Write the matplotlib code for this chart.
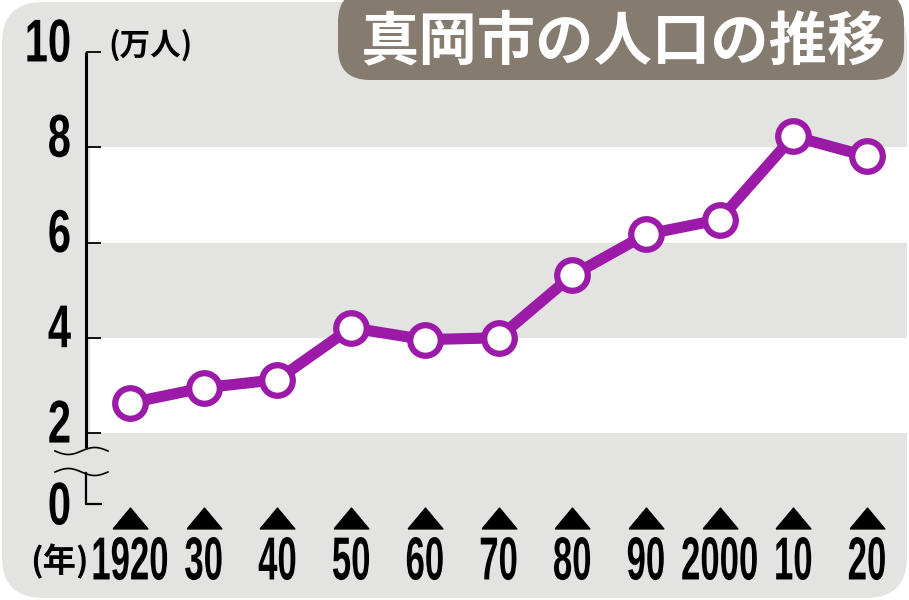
import numpy as np
import matplotlib.pyplot as plt
from matplotlib.patches import FancyBboxPatch
from matplotlib.patheffects import AbstractPathEffect
from matplotlib.transforms import Affine2D, blended_transform_factory

plt.rcParams['font.family'] = ['Noto Sans CJK JP', 'DejaVu Sans']

# data (population in 10,000 people)
years = [1920, 1930, 1940, 1950, 1960, 1970, 1980, 1990, 2000, 2010, 2020]
year_labels = ['1920', '30', '40', '50', '60', '70', '80', '90', '2000', '10', '20']
population = [2.63, 2.95, 3.12, 4.21, 3.96, 4.00, 5.31, 6.17, 6.48, 8.23, 7.81]
y_ticks = [2, 4, 6, 8, 10]
title = '真岡市の人口の推移'
unit_label = '(万人)'
year_unit = '(年)'

PURPLE = '#9c1aa8'
GRAY = '#e3e3e1'
NUM_FONT = ['Liberation Sans', 'DejaVu Sans']
W, H = 909, 600


class Tall(AbstractPathEffect):
    """stretch text vertically about its middle (condensed look)"""

    def __init__(self, sy):
        super().__init__()
        self.sy = sy

    def draw_path(self, renderer, gc, tpath, affine, rgbFace=None):
        ext = affine.transform_path(tpath).get_extents()
        cy = (ext.y0 + ext.y1) / 2
        t = affine + Affine2D().translate(0, -cy).scale(1, self.sy).translate(0, cy)
        renderer.draw_path(gc, tpath, t, rgbFace)


fig = plt.figure(figsize=(W / 100, H / 100), dpi=100)
fig.patch.set_facecolor('white')


def fx(px):
    return px / W


def fy(py):
    return 1 - py / H


# rounded grey background
bg = FancyBboxPatch((fx(2), fy(598)), fx(905), 596 / H,
                    boxstyle='round,pad=0,rounding_size=0.045',
                    mutation_aspect=W / H,
                    transform=fig.transFigure, facecolor=GRAY,
                    edgecolor='none', zorder=-1)
fig.patches.append(bg)

ax = fig.add_axes([0, 0, 1, 1])
ax.set_facecolor('none')
ax.axis('off')

# pixel anchors -> data limits
xs = (867 - 130) / 100
ax.set_xlim(1920 - 130 / xs, 1920 + (W - 130) / xs)
ys = (433 - 52) / 8
ax.set_ylim(2 - (H - 433) / ys, 2 + 433 / ys)

# white bands
for lo in (2, 6):
    ax.axhspan(lo, lo + 2, xmin=fx(90), xmax=1, color='white', lw=0, zorder=1)

# axis line and ticks
bt = blended_transform_factory(ax.transAxes, ax.transData)
ax.plot([fx(86), fx(86)], [2 - 15 / ys, 10], color='black', lw=2.2,
        transform=bt, zorder=3, solid_capstyle='butt')
ax.hlines(y_ticks, fx(86), fx(101), color='black', lw=1.3, transform=bt, zorder=3)
for v in y_ticks:
    ax.text(fx(71), v + 8 / ys, str(v), transform=bt, ha='right', va='center',
            fontsize=30, family=NUM_FONT, weight='bold', zorder=4,
            path_effects=[Tall(1.45)])

# axis break
t = np.linspace(0, 1, 60)
for base, sgn in ((451, 1), (472, -1)):
    wx = 55 + 53 * t
    wy = base + 3.5 * np.sin(2 * np.pi * t) * sgn
    fig.add_artist(plt.Line2D(fx(wx), fy(wy), color='black', lw=1.2))
fig.add_artist(plt.Line2D([fx(86), fx(86), fx(101)], [fy(473), fy(504), fy(504)],
                          color='black', lw=1.6))
fig.text(fx(71), fy(507), '0', ha='right', va='center', fontsize=30,
         family=NUM_FONT, weight='bold', path_effects=[Tall(1.45)])

fig.text(fx(108), fy(45), unit_label, ha='left', va='center', fontsize=22,
         weight='bold')

# data line
ax.plot(years, population, color=PURPLE, lw=8, zorder=5,
        solid_joinstyle='round')
ax.plot(years, population, 'o', ms=22, mfc='white', mec=PURPLE, mew=4.5,
        zorder=6)

# year ticks (flat triangles) and labels
tri = [(-1, -0.6), (1, -0.6), (0, 0.6), (-1, -0.6)]
bx = blended_transform_factory(ax.transData, fig.transFigure)
ax.plot(years, [fy(518)] * len(years), linestyle='none', marker=tri,
        color='black', ms=25, transform=bx, zorder=4, clip_on=False)
for yr, lab in zip(years, year_labels):
    ax.text(yr, fy(561), lab, transform=bx, ha='center', va='center',
            fontsize=25, weight='bold', family=NUM_FONT,
            path_effects=[Tall(1.75)])
fig.text(fx(59), fy(562), year_unit, ha='center', va='center', fontsize=24,
         weight='bold')

# title box
tb = FancyBboxPatch((fx(338), fy(80)), fx(566), 90 / H,
                    boxstyle='round,pad=0,rounding_size=0.035',
                    mutation_aspect=W / H,
                    transform=fig.transFigure, facecolor='#857b6f',
                    edgecolor='none', zorder=7)
fig.patches.append(tb)
fig.text(fx(623), fy(42), title, ha='center', va='center', fontsize=42,
         color='white', weight='bold', zorder=8)

fig.savefig('out.png', dpi=100)
